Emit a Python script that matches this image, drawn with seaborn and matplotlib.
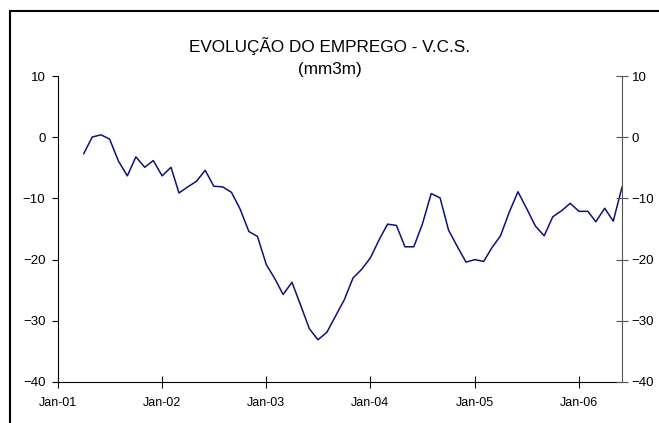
import pandas as pd
import numpy as np
import matplotlib
matplotlib.use("Agg")
import matplotlib.pyplot as plt
import matplotlib.dates as mdates
from matplotlib.patches import Rectangle
import seaborn as sns

# monthly values, Apr-2001 .. Jun-2006 (mm3m)
start_month = "2001-04-01"
values = [
    -2.7, 0.05, 0.4, -0.3, -3.9, -6.3, -3.2, -4.9, -3.8,                  # 2001
    -6.3, -4.9, -9.1, -8.1, -7.2, -5.4, -8.0, -8.1, -9.0, -11.7, -15.4, -16.2,  # 2002
    -20.8, -23.2, -25.7, -23.7, -27.4, -31.3, -33.1, -31.9, -29.2, -26.6, -23.0, -21.6,  # 2003
    -19.7, -16.7, -14.2, -14.4, -17.9, -17.9, -14.2, -9.2, -9.9, -15.2, -17.9, -20.4,  # 2004
    -20.0, -20.3, -18.1, -16.1, -12.3, -8.9, -11.6, -14.5, -16.1, -13.0, -12.0, -10.8,  # 2005
    -12.1, -12.1, -13.8, -11.6, -13.7, -8.1,                              # 2006
]
y_ticks = [-40, -30, -20, -10, 0, 10]
title = "EVOLUÇÃO DO EMPREGO - V.C.S.\n(mm3m)"

df = pd.DataFrame({
    "date": pd.date_range(start_month, periods=len(values), freq="MS"),
    "value": values,
})

sns.set_style("white")
plt.rcParams["font.family"] = ["Liberation Sans", "DejaVu Sans"]
plt.rcParams["text.color"] = "black"
plt.rcParams["xtick.color"] = "black"
plt.rcParams["ytick.color"] = "black"

fig = plt.figure(figsize=(6.59, 4.23), dpi=100)
ax = fig.add_axes([0.088, 0.097, 0.856, 0.723])

sns.lineplot(data=df, x="date", y="value", ax=ax, color="#10107a", linewidth=1.1)

ax.set_xlim(pd.Timestamp("2001-01-01"), pd.Timestamp("2006-06-01"))
ax.set_ylim(-40, 10)
ax.set_yticks(y_ticks)
ax.set_xlabel("")
ax.set_ylabel("")
ax.xaxis.set_major_locator(mdates.YearLocator(month=1, day=1))
ax.xaxis.set_major_formatter(mdates.DateFormatter("%b-%y"))

for side in ["top", "right"]:
    ax.spines[side].set_visible(False)
for side in ["left", "bottom"]:
    ax.spines[side].set_color("black")
    ax.spines[side].set_linewidth(0.8)

ax.tick_params(axis="y", direction="out", length=4, width=0.8, pad=5,
               labelsize=9.5, left=True, color="black", labelcolor="black")
ax.tick_params(axis="x", direction="inout", length=8, width=0.8, pad=7,
               labelsize=9, bottom=True, color="black", labelcolor="black")

# right-hand copy of the value axis
ax2 = ax.twinx()
ax2.set_ylim(-40, 10)
ax2.set_yticks(y_ticks)
for side in ["top", "left", "bottom"]:
    ax2.spines[side].set_visible(False)
ax2.spines["right"].set_color("#555555")
ax2.spines["right"].set_linewidth(0.8)
ax2.tick_params(axis="y", direction="inout", length=8, width=0.8, pad=3,
                labelsize=9.5, right=True, color="#555555", labelcolor="black")

fig.text(0.5, 0.865, title, ha="center", va="center", fontsize=12.3,
         linespacing=1.55, color="black")

# chart-area frame (runs off the right and bottom edges)
fig.patches.append(Rectangle((10 / 659, -0.2), 1.2, 0.2 + 1 - 11 / 423,
                             transform=fig.transFigure, fill=False,
                             edgecolor="black", linewidth=1.5))

fig.savefig("out.png", dpi=100)
